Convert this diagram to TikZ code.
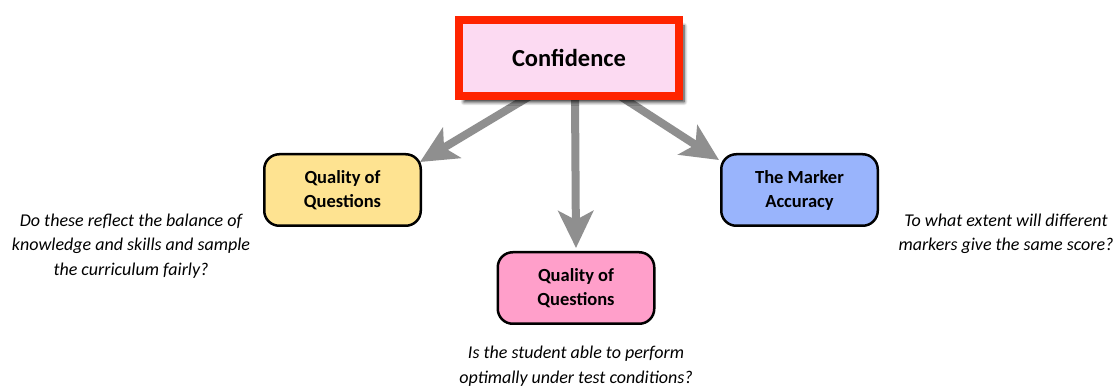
\documentclass[tikz,border=0pt]{standalone}
\usepackage{fontspec}
\setmainfont{Carlito}
\usetikzlibrary{arrows.meta,shadows.blur}
\pgfdeclarelayer{background}
\pgfsetlayers{background,main}
\definecolor{confred}{HTML}{FF2400}
\definecolor{confpink}{HTML}{FCDAF2}
\definecolor{qyellow}{HTML}{FEE391}
\definecolor{qblue}{HTML}{99B4FC}
\definecolor{qpink}{HTML}{FF9FCA}
\definecolor{arrgray}{HTML}{8F8F8F}
\begin{document}
\begin{tikzpicture}[x=1pt,y=-1pt,
  topbox/.style={draw=confred, line width=8pt, fill=confpink, minimum width=220pt, minimum height=76pt,
     inner sep=0pt, font=\fontsize{24.5}{28}\selectfont\bfseries,
     blur shadow={shadow xshift=5pt, shadow yshift=-6pt, shadow blur steps=6, shadow blur radius=3.5pt, shadow opacity=85}},
  qbox/.style={draw=black, line width=2.5pt, rounded corners=15pt, minimum width=156.5pt, minimum height=71.5pt,
     inner sep=0pt, align=center, font=\fontsize{18.5}{24}\selectfont\bfseries},
  note/.style={align=center, inner sep=0pt, font=\fontsize{18}{24.5}\selectfont\itshape},
  bigarrow/.style={draw=arrgray, line width=8pt, -{Stealth[length=37pt, width=35pt, inset=9pt]}}
]
\useasboundingbox (0,0) rectangle (1117,387);
\node[topbox] (conf) at (569,58) {Confidence};
\node[qbox, fill=qyellow] (q1) at (342.5,190) {Quality of\\Questions};
\node[qbox, fill=qblue] (q2) at (799.5,190) {The Marker\\Accuracy};
\node[qbox, fill=qpink] (q3) at (576,288) {Quality of\\Questions};
\node[note] (n1) at (131,246) {Do these reflect the balance of\\knowledge and skills and sample\\the curriculum fairly?};
\node[note] (n2) at (1006,234) {To what extent will different\\markers give the same score?};
\node[note] (n3) at (576,366) {Is the student able to perform\\optimally under test conditions?};
\begin{pgfonlayer}{background}
\draw[bigarrow] ([xshift=-39pt,yshift=4pt]conf.south) -- ([xshift=-2pt,yshift=-9pt]q1.north east);
\draw[bigarrow] ([xshift=6pt,yshift=4pt]conf.south) -- ([yshift=3pt]q3.north);
\draw[bigarrow] ([xshift=51pt,yshift=4pt]conf.south) -- ([xshift=-1pt,yshift=-7pt]q2.north west);
\end{pgfonlayer}
\end{tikzpicture}
\end{document}
